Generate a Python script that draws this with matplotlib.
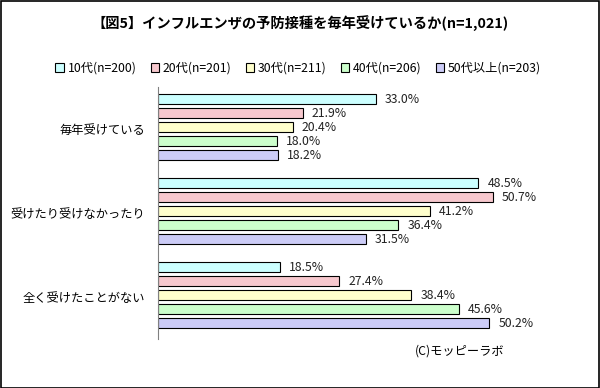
import matplotlib.pyplot as plt
import matplotlib.patches as patches
import numpy as np

plt.rcParams['font.family'] = ['Noto Sans CJK JP', 'DejaVu Sans']

categories = ['毎年受けている', '受けたり受けなかったり', '全く受けたことがない']
series = ['10代(n=200)', '20代(n=201)', '30代(n=211)', '40代(n=206)', '50代以上(n=203)']
values = [
    [33.0, 48.5, 18.5],
    [21.9, 50.7, 27.4],
    [20.4, 41.2, 38.4],
    [18.0, 36.4, 45.6],
    [18.2, 31.5, 50.2],
]
colors = ['#CCFFFF', '#F7C8CE', '#FFFFCC', '#CCFFCC', '#CCCCF7']

fig = plt.figure(figsize=(6.0, 3.88), dpi=100)
ax = fig.add_axes([158/600, 1 - 339/388, 396/600, 252/388])

y = np.arange(len(categories))
slot = 1/6
h = 10/84
for j, (name, vals, c) in enumerate(zip(series, values, colors)):
    pos = y + (j - 2) * slot - 0.018
    ax.barh(pos, vals, height=h, color=c, edgecolor='black',
            linewidth=0.8, label=name)
    for yy, v in zip(pos, vals):
        ax.text(v + 1.4, yy, f'{v:.1f}%', va='center', ha='left',
                fontsize=8.8, color='#222')

ax.set_xlim(0, 60)
ax.set_ylim(2.5, -0.5)
ax.set_yticks(y)
ax.set_yticklabels(categories, fontsize=8.8)
ax.tick_params(axis='y', length=0, pad=9)
ax.set_xticks([])
for s in ['top', 'right', 'bottom']:
    ax.spines[s].set_visible(False)
ax.spines['left'].set_color('#808080')
ax.spines['left'].set_linewidth(0.8)

fig.text(0.5, 1 - 23/388, '【図5】インフルエンザの予防接種を毎年受けているか(n=1,021)',
         ha='center', va='center', fontsize=10.3, fontweight='bold')

leg = fig.legend(loc='center', bbox_to_anchor=(0.497, 1 - 68/388), ncol=5,
                 frameon=False, fontsize=8.8, handlelength=0.7, handleheight=0.7,
                 handletextpad=0.3, columnspacing=1.15)

fig.text(505/600, 1 - 351/388, '(C)モッピーラボ', ha='right', va='center', fontsize=8.8)

border = patches.Rectangle((0.001, 0.001), 0.997, 0.996, transform=fig.transFigure,
                           fill=False, edgecolor='black', linewidth=1.2)
fig.patches.append(border)

fig.savefig('out.png', dpi=100, facecolor='white')
